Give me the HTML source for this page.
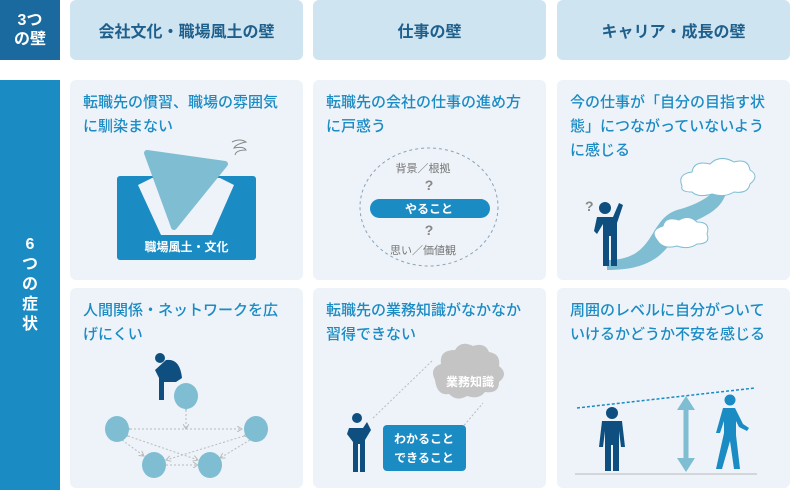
<!DOCTYPE html>
<html><head><meta charset="utf-8"><style>
*{margin:0;padding:0;box-sizing:border-box}
body{width:790px;height:501px;background:#fff;position:relative;overflow:hidden;font-family:"Liberation Sans","Noto Sans CJK JP",sans-serif}
.a{position:absolute}
.hd{background:#cfe4f1;border-radius:6px;color:#1f5f8c;font-weight:bold;font-size:16px;display:flex;align-items:center;justify-content:center;height:60px;top:0;width:233px}
.cd{background:#edf3f9;border-radius:6px;width:233px;height:200px}
.tx{position:absolute;left:13px;top:11px;right:8px;color:#1b8bc4;font-size:15px;line-height:24px;font-weight:500}
svg{position:absolute;left:0;top:0}
</style></head><body>
<div class="a" style="left:0;top:0;width:60px;height:60px;background:#1a6aa0;color:#fff;font-weight:bold;font-size:16px;line-height:19px;text-align:center;padding-top:11px">3つ<br>の壁</div>
<div class="a" style="left:0;top:80px;width:60px;height:410px;background:#1b8bc4;color:#fff;font-weight:bold;font-size:16px;line-height:20px;text-align:center;padding-top:155px">6<br>つ<br>の<br>症<br>状</div>
<div class="a hd" style="left:70px">会社文化・職場風土の壁</div>
<div class="a hd" style="left:313px">仕事の壁</div>
<div class="a hd" style="left:557px">キャリア・成長の壁</div>

<div class="a cd" style="left:70px;top:80px"><div class="tx">転職先の慣習、職場の雰囲気<br>に馴染まない</div>
<svg width="233" height="200"><rect x="47" y="96" width="139" height="84" rx="3" fill="#1b8bc4"/><polygon points="68,105 82,98 150,98 164,105 142,155 91,155" fill="#edf3f9"/><polygon points="77,73 155,84 104,147" fill="#7fbdd2" stroke="#7fbdd2" stroke-width="6" stroke-linejoin="round"/><text x="116.5" y="171" fill="#fff" font-size="12" font-weight="bold" text-anchor="middle">職場風土・文化</text><path d="M162,62 q8,-4 14,0 q-10,2 -12,6 q10,-2 12,2 q-10,0 -11,5" stroke="#888" fill="none" stroke-width="1"/></svg></div>

<div class="a cd" style="left:313px;top:80px"><div class="tx">転職先の会社の仕事の進め方<br>に戸惑う</div>
<svg width="233" height="200"><ellipse cx="116" cy="127" rx="69" ry="59" fill="none" stroke="#8aa3b8" stroke-dasharray="3,3"/><text x="110" y="92" fill="#777" font-size="11" text-anchor="middle">背景／根拠</text><text x="116" y="110" fill="#888" font-size="14" font-weight="bold" text-anchor="middle">?</text><rect x="57" y="119" width="120" height="19" rx="9.5" fill="#1b8bc4"/><text x="116" y="133" fill="#fff" font-size="12" font-weight="bold" text-anchor="middle">やること</text><text x="116" y="155" fill="#888" font-size="14" font-weight="bold" text-anchor="middle">?</text><text x="110" y="174" fill="#777" font-size="11" text-anchor="middle">思い／価値観</text></svg></div>

<div class="a cd" style="left:557px;top:80px"><div class="tx">今の仕事が「自分の目指す状<br>態」につながっていないよう<br>に感じる</div>
<svg width="233" height="200"><path d="M50,180 C100,180 90,140 120,130 C150,122 160,110 165,100 L170,110 C165,130 150,135 130,145 C110,160 110,190 50,190Z" fill="#7fbdd2"/><path d="M125,106 q-5,-12 10,-14 q2,-12 18,-8 q10,-10 24,-2 q14,-4 16,8 q10,6 0,14 q-2,10 -16,8 q-10,6 -22,2 q-14,4 -20,-2 q-12,0 -10,-6z" fill="#fff" stroke="#7fbdd2"/><path d="M100,160 q-8,-10 6,-14 q2,-10 16,-6 q10,-6 18,2 q14,0 10,12 q4,10 -10,10 q-8,6 -20,2 q-14,4 -20,-6z" fill="#fff" stroke="#7fbdd2"/><text x="28" y="131" fill="#888" font-size="14" font-weight="bold">?</text><circle cx="48" cy="128" r="6" fill="#0e4f80"/><path d="M40,137 h16 l6,-14 4,2 -6,18 v43 h-6 v-30 h-2 v30 h-6 v-42 l-6,10 -3,-3z" fill="#0e4f80"/></svg></div>

<div class="a cd" style="left:70px;top:288px"><div class="tx">人間関係・ネットワークを広<br>げにくい</div>
<svg width="233" height="200"><defs><marker id="m" markerWidth="6" markerHeight="6" refX="5" refY="3" orient="auto"><path d="M0,0 L5,3 L0,6" fill="none" stroke="#bbb"/></marker></defs><g stroke="#bbb" stroke-dasharray="2,2" fill="none" marker-end="url(#m)" marker-start="url(#m)"><line x1="60" y1="141" x2="172" y2="141"/><line x1="116" y1="122" x2="116" y2="141"/><line x1="52" y1="152" x2="74" y2="168"/><line x1="58" y1="148" x2="128" y2="172"/><line x1="174" y1="148" x2="96" y2="172"/><line x1="180" y1="152" x2="150" y2="170"/><line x1="96" y1="177" x2="128" y2="177"/></g><ellipse cx="116" cy="108" rx="12" ry="13" fill="#7fbdd2"/><ellipse cx="47" cy="141" rx="12" ry="13" fill="#7fbdd2"/><ellipse cx="186" cy="141" rx="12" ry="13" fill="#7fbdd2"/><ellipse cx="84" cy="177" rx="12" ry="13" fill="#7fbdd2"/><ellipse cx="140" cy="177" rx="12" ry="13" fill="#7fbdd2"/><circle cx="90" cy="70" r="5" fill="#0e4f80"/><path d="M96,72 q14,-2 16,18 l-6,4 h-12 v18 h-5 v-22 l-4,-8z" fill="#0e4f80"/></svg></div>

<div class="a cd" style="left:313px;top:288px"><div class="tx">転職先の業務知識がなかなか<br>習得できない</div>
<svg width="233" height="200"><g stroke="#bbb" stroke-dasharray="2,2"><line x1="60" y1="130" x2="120" y2="72"/><line x1="115" y1="180" x2="170" y2="115"/></g><path d="M122,92 q-6,-12 6,-16 q-2,-14 14,-14 q6,-10 18,-4 q12,-4 16,6 q12,2 10,14 q10,8 0,16 q0,12 -14,10 q-6,8 -18,4 q-10,6 -18,-2 q-12,2 -14,-14z" fill="#c4c4c4"/><text x="157" y="98" fill="#fff" font-size="12" font-weight="bold" text-anchor="middle">業務知識</text><rect x="70" y="137" width="83" height="46" rx="4" fill="#1b8bc4"/><text x="111" y="155" fill="#fff" font-size="12" font-weight="bold" text-anchor="middle">わかること</text><text x="111" y="174" fill="#fff" font-size="12" font-weight="bold" text-anchor="middle">できること</text><circle cx="44" cy="130" r="5" fill="#0e4f80"/><path d="M36,140 h14 l4,-6 4,8 -6,10 v32 h-5 v-28 h-2 v28 h-5 v-30 l-6,-8z" fill="#0e4f80"/></svg></div>

<div class="a cd" style="left:557px;top:288px"><div class="tx">周囲のレベルに自分がついて<br>いけるかどうか不安を感じる</div>
<svg width="233" height="200"><line x1="18" y1="186" x2="200" y2="186" stroke="#bbb"/><line x1="20" y1="120" x2="198" y2="100" stroke="#1b8bc4" stroke-dasharray="3,2" stroke-width="1.5"/><line x1="129" y1="118" x2="129" y2="172" stroke="#7fbdd2" stroke-width="5"/><polygon points="120,122 129,108 138,122" fill="#7fbdd2"/><polygon points="120,170 129,184 138,170" fill="#7fbdd2"/><circle cx="55" cy="125" r="6" fill="#0e4f80"/><path d="M45,133 h20 l3,26 h-4 l-2,-16 v40 h-6 v-26 h-2 v26 h-6 v-40 l-2,16 h-4z" fill="#0e4f80"/><circle cx="173" cy="112" r="5.5" fill="#1b8bc4"/><path d="M166,120 h12 l8,16 6,4 -2,3 -8,-4 -3,-6 v14 l4,34 h-6 l-4,-28 -8,28 h-6 l8,-36 v-12 l-4,12 h-4z" fill="#1b8bc4"/></svg></div>
</body></html>
